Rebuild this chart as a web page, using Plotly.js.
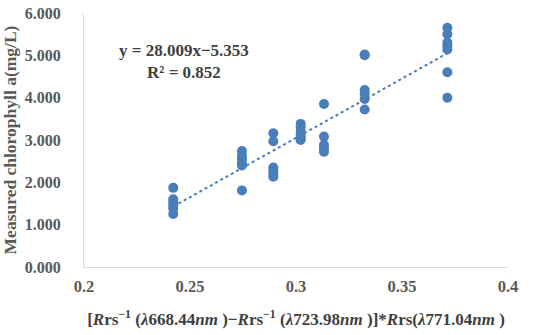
<!DOCTYPE html>
<html><head><meta charset="utf-8">
<script src="https://cdn.plot.ly/plotly-3.0.1.min.js"></script>
<style>body{margin:0;background:#fff}#c{width:550px;height:335px}</style>
</head><body><div id="c"></div>
<script>
const xGroups = [0.2421, 0.2745, 0.2893, 0.3022, 0.3132, 0.3324, 0.3714];
const yGroups = [
  [1.87, 1.60, 1.53, 1.45, 1.38, 1.25],
  [2.74, 2.62, 2.55, 2.47, 2.40, 1.81],
  [3.16, 2.97, 2.35, 2.27, 2.20, 2.13],
  [3.38, 3.30, 3.20, 3.12, 3.05, 3.00],
  [3.85, 3.08, 2.88, 2.80, 2.72],
  [5.02, 5.00, 4.18, 4.10, 3.97, 3.72],
  [5.65, 5.50, 5.30, 5.22, 5.14, 4.60, 4.00]
];
const slope = 28.009, intercept = -5.353;
const eqText = "y = 28.009x\u22125.353<br>R\u00b2 = 0.852";
const xTicks = [0.2, 0.25, 0.3, 0.35, 0.4];
const xTickText = ["0.2", "0.25", "0.3", "0.35", "0.4"];
const yTicks = [0, 1, 2, 3, 4, 5, 6];
const yTickText = ["0.000", "1.000", "2.000", "3.000", "4.000", "5.000", "6.000"];

const xs = [], ys = [];
xGroups.forEach((x, i) => yGroups[i].forEach(y => { xs.push(x); ys.push(y); }));
const xmin = Math.min(...xGroups), xmax = Math.max(...xGroups);

const font = "Liberation Serif, Times New Roman, serif";
const data = [
  {x: xs, y: ys, mode: 'markers', type: 'scatter',
   marker: {color: '#4A7EBB', size: 10}, hoverinfo: 'none'},
  {x: [xmin, xmax], y: [slope*xmin+intercept, slope*xmax+intercept], mode: 'lines', type: 'scatter',
   line: {color: '#4A7EBB', width: 2, dash: 'dot'}, hoverinfo: 'none'}
];
const L = 84, R = 42, T = 13, B = 68;
const layout = {
  width: 550, height: 335, showlegend: false,
  paper_bgcolor: '#fff', plot_bgcolor: '#fff',
  margin: {l: L, r: R, t: T, b: B},
  font: {family: font, color: '#595959'},
  xaxis: {range: [0.2, 0.4], tickvals: xTicks, ticktext: xTickText, showgrid: false, zeroline: false,
    showline: true, linecolor: '#d9d9d9', linewidth: 1, ticks: '', ticklabelstandoff: 4,
    tickfont: {family: font, size: 16.5, color: '#595959', weight: 'bold'},
    title: {text: "[<i>R</i>rs<sup>\u22121</sup> (<i>\u03bb</i>668.44<i>nm</i> )\u2212<i>R</i>rs<sup>\u22121</sup> (<i>\u03bb</i>723.98<i>nm</i> )]*<i>R</i>rs(<i>\u03bb</i>771.04<i>nm</i> )",
      font: {family: font, size: 17, color: '#404040', weight: 'bold'}, standoff: 18}},
  yaxis: {range: [0, 6], tickvals: yTicks, ticktext: yTickText, showgrid: false, zeroline: false,
    showline: true, linecolor: '#d9d9d9', linewidth: 1, ticks: '', ticklabelstandoff: 19,
    tickfont: {family: font, size: 16, color: '#595959', weight: 'bold'},
    title: {text: "Measured chlorophyll a(mg/L)", font: {family: font, size: 17.5, color: '#595959', weight: 'bold'}, standoff: 4}},
  annotations: [{x: (184 - L) / (550 - L - R), y: 1 - (61 - T) / (335 - T - B), xref: 'paper', yref: 'paper',
    text: eqText, showarrow: false, xanchor: 'center', yanchor: 'middle', align: 'center',
    font: {family: font, size: 17, color: '#404040', weight: 'bold'}}]
};
Plotly.newPlot('c', data, layout, {staticPlot: true});
</script></body></html>
